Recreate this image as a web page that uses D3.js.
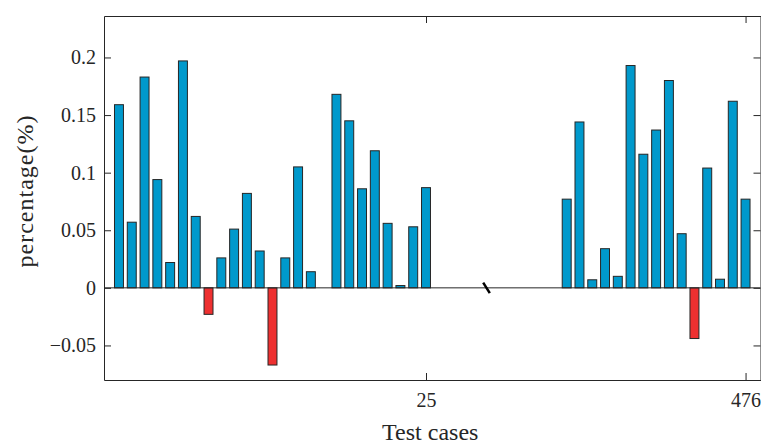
<!DOCTYPE html>
<html>
<head>
<meta charset="utf-8">
<script src="https://cdn.jsdelivr.net/npm/d3@7"></script>
<style>
	body { margin: 0; background: #fff; }
	svg text { font-family: Palatino, "Palatino Linotype", "Book Antiqua", "Liberation Serif", serif; fill: #262626; }
</style>
</head>
<body>
<svg id="chart" width="761" height="443"></svg>
<script>
// data

var leftCases = [1, 2, 3, 4, 5, 6, 7, 8, 9, 10, 11, 12, 13, 14, 15, 16, 17, 18, 19, 20, 21, 22, 23, 24, 25];
var leftValues = [0.159, 0.057, 0.183, 0.094, 0.022, 0.197, 0.062, -0.023, 0.026, 0.051,
	0.082, 0.032, -0.067, 0.026, 0.105, 0.014, 0, 0.168, 0.145, 0.086,
	0.119, 0.056, 0.002, 0.053, 0.087];

var rightCases = [462, 463, 464, 465, 466, 467, 468, 469, 470, 471, 472, 473, 474, 475, 476];
var rightValues = [0.077, 0.144, 0.007, 0.034, 0.010, 0.193, 0.116, 0.137, 0.180, 0.047,
	-0.044, 0.104, 0.0075, 0.162, 0.077];

var yTicks = [-0.05, 0, 0.05, 0.1, 0.15, 0.2];
var yTickLabels = ['\u22120.05', '0', '0.05', '0.1', '0.15', '0.2'];
var xTicks = [25, 476];

var bars = leftCases.map(function (c, i) { return { c: c, v: leftValues[i] }; })
	.concat(rightCases.map(function (c, i) { return { c: c, v: rightValues[i] }; }));

var svg = d3.select('svg#chart');

var plotLeft = 104, plotTop = 16, plotRight = 760.5, plotBottom = 380;

// broken x axis: two linear pieces joined by a gap
var x = d3.scaleLinear()
	.domain([-0.17, 25, 462, 477.17])
	.range([plotLeft, 426, 566.7, plotRight]);

var y = d3.scaleLinear().domain([-0.08, 0.236]).range([plotBottom, plotTop]);

var step = x(2) - x(1);
var barW = step * 0.7;

svg.selectAll('rect.bar')
	.data(bars)
	.enter()
	.append('rect')
	.attr('class', 'bar')
	.attr('x', function (d) { return x(d.c) - barW / 2; })
	.attr('y', function (d) { return y(Math.max(d.v, 0)); })
	.attr('width', barW)
	.attr('height', function (d) { return Math.abs(y(d.v) - y(0)); })
	.style('fill', function (d) { return d.v < 0 ? '#ee3030' : '#0099cc'; })
	.style('stroke', '#262626')
	.style('stroke-width', '1px');

// zero line
svg.append('line')
	.attr('x1', plotLeft)
	.attr('x2', plotRight)
	.attr('y1', y(0))
	.attr('y2', y(0))
	.style('stroke', '#262626')
	.style('stroke-width', '1px');

// break mark on the zero line
var bx = x(25) + 0.43 * (x(462) - x(25));
svg.append('line')
	.attr('x1', bx - 3.3)
	.attr('y1', y(0) - 5.3)
	.attr('x2', bx + 3.3)
	.attr('y2', y(0) + 5.3)
	.style('stroke', '#000')
	.style('stroke-width', '2.5px');

// axes, ticks pointing inward on all four sides
var fmt = function (d) { return yTickLabels[yTicks.indexOf(d)]; };

svg.append('g')
	.attr('transform', 'translate(' + plotLeft + ',0)')
	.call(d3.axisLeft(y).tickValues(yTicks).tickFormat(fmt).tickSize(-7).tickSizeOuter(0).tickPadding(8));

svg.append('g')
	.attr('transform', 'translate(' + plotRight + ',0)')
	.call(d3.axisRight(y).tickValues(yTicks).tickFormat('').tickSize(-7).tickSizeOuter(0));

svg.append('g')
	.attr('transform', 'translate(0,' + plotBottom + ')')
	.call(d3.axisBottom(x).tickValues(xTicks).tickFormat(d3.format('d')).tickSize(-7).tickSizeOuter(0).tickPadding(13));

svg.append('g')
	.attr('transform', 'translate(0,' + plotTop + ')')
	.call(d3.axisTop(x).tickValues(xTicks).tickFormat('').tickSize(-7).tickSizeOuter(0));

svg.selectAll('.domain, .tick line')
	.style('stroke', '#262626')
	.style('stroke-width', '1px');

svg.selectAll('.tick text')
	.style('font-size', '20px')
	.style('font-family', 'Palatino, "Palatino Linotype", "Book Antiqua", "Liberation Serif", serif')
	.style('fill', '#262626');

// axis titles
svg.append('text')
	.text('Test cases')
	.attr('x', (plotLeft + plotRight) / 2 - 2)
	.attr('y', 440)
	.style('text-anchor', 'middle')
	.style('font-size', '24px');

svg.append('text')
	.text('percentage(%)')
	.attr('transform', 'translate(33,191) rotate(-90)')
	.style('text-anchor', 'middle')
	.style('font-size', '24px')
	.style('letter-spacing', '1px');
</script>
</body>
</html>
